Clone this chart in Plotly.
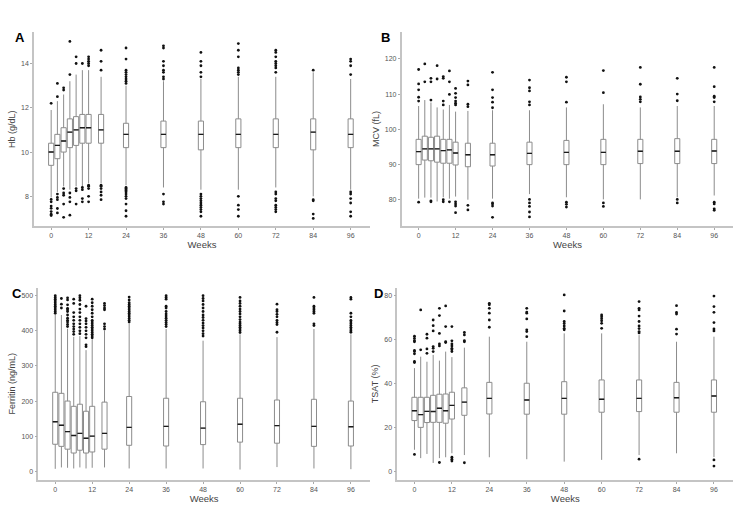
import plotly.graph_objects as go

weeks = [0, 2, 4, 6, 8, 10, 12, 16, 24, 36, 48, 60, 72, 84, 96]
x_ticks = [0, 12, 24, 36, 48, 60, 72, 84, 96]

# Panel A: Hb (g/dL)
hb_q1 = [9.4, 9.7, 10.0, 10.2, 10.3, 10.4, 10.4, 10.4, 10.2, 10.2, 10.1, 10.2, 10.2, 10.1, 10.2]
hb_med = [10.0, 10.3, 10.5, 10.9, 11.0, 11.1, 11.1, 11.0, 10.8, 10.8, 10.8, 10.8, 10.8, 10.9, 10.8]
hb_q3 = [10.4, 10.8, 11.1, 11.5, 11.6, 11.7, 11.7, 11.7, 11.3, 11.4, 11.4, 11.5, 11.5, 11.5, 11.5]
hb_lo = [7.95, 8.2, 8.45, 8.3, 8.45, 8.45, 8.6, 8.6, 8.5, 8.4, 8.3, 8.3, 8.4, 8.0, 8.3]
hb_hi = [11.9, 12.3, 12.6, 13.2, 13.5, 13.7, 13.7, 13.4, 13.0, 13.2, 13.3, 13.4, 13.4, 13.6, 13.3]
hb_out = [
    [12.2, 7.86, 7.75, 7.56, 7.46, 7.31, 7.19, 7.13],
    [12.5, 13.1, 8.1, 7.95, 7.85, 7.45, 7.25],
    [12.8, 12.9, 8.35, 8.15, 8.05, 7.65, 7.05],
    [13.5, 15.0, 8.15, 7.95, 7.75, 7.15],
    [14.0, 14.3, 8.35, 8.25, 7.65],
    [14.0, 8.4, 8.3, 7.9, 7.75],
    [13.9, 14.0, 14.1, 14.2, 14.3, 8.5, 8.45, 8.35, 8.0, 7.75],
    [13.7, 14.1, 14.6, 8.5, 8.45, 8.35, 8.2, 8.05, 7.85],
    [13.1, 13.2, 13.3, 13.4, 13.5, 13.6, 13.7, 14.2, 14.7,
     8.4, 8.35, 8.3, 8.25, 8.2, 8.1, 8.0, 7.9, 7.65, 7.35, 7.1],
    [13.3, 13.4, 13.6, 13.7, 13.9, 14.1, 14.7, 14.8, 8.1, 7.75, 7.65],
    [13.4, 13.6, 13.9, 14.1, 14.5, 8.1, 8.0, 7.9, 7.8, 7.7, 7.6, 7.5, 7.4, 7.3, 7.1],
    [13.5, 13.6, 13.7, 13.8, 14.3, 14.6, 14.9, 8.0, 7.6, 7.4, 7.1],
    [13.6, 13.8, 13.9, 14.0, 14.1, 14.3, 14.5, 14.6, 8.2, 8.1, 7.9, 7.8, 7.6, 7.5, 7.4, 7.3],
    [13.7, 7.85, 7.8, 7.2, 7.0],
    [13.5, 13.9, 14.1, 14.2, 8.2, 8.1, 7.9, 7.7, 7.3, 7.1],
]

# Panel B: MCV (fL)
mcv_q1 = [89.9, 91.2, 91.0, 90.6, 90.3, 90.3, 89.8, 89.3, 89.5, 89.9, 89.9, 89.9, 90.2, 90.2, 90.2]
mcv_med = [93.6, 94.4, 94.4, 94.4, 93.9, 94.1, 93.2, 92.7, 92.7, 93.1, 93.4, 93.4, 93.7, 93.7, 93.8]
mcv_q3 = [97.1, 98.0, 97.7, 98.0, 97.1, 97.1, 96.3, 96.0, 96.0, 96.3, 96.8, 97.1, 97.1, 97.3, 97.1]
mcv_lo = [80.2, 80.5, 80.5, 79.4, 80.6, 80.2, 80.8, 79.9, 80.2, 81.5, 80.6, 80.0, 80.0, 80.6, 81.1]
mcv_hi = [106.6, 108.3, 107.6, 106.2, 105.6, 106.9, 105.0, 105.2, 105.4, 105.4, 106.2, 107.1, 106.2, 106.6, 106.6]
mcv_out = [
    [117.0, 112.9, 111.2, 109.1, 108.0, 79.2],
    [118.6, 113.5],
    [114.5, 113.5, 108.3, 79.6, 79.3],
    [118.1, 114.3],
    [115.0, 114.5, 108.0, 106.9, 79.9, 79.3],
    [116.6, 113.5, 109.9, 79.3],
    [111.6, 110.2, 109.0, 108.0, 107.4, 106.9, 79.3, 78.7, 78.1, 76.2],
    [113.7, 112.6, 107.1, 106.4, 78.3, 77.0],
    [116.2, 111.2, 109.0, 107.7, 106.1, 79.0, 78.7, 78.1, 74.9],
    [114.0, 111.8, 110.9, 107.8, 106.9, 80.0, 79.0, 78.0, 76.4, 75.0],
    [114.8, 113.5, 107.7, 79.2, 78.6, 77.8],
    [116.7, 110.4, 79.0, 78.0],
    [117.6, 112.8, 109.2, 108.5, 107.8],
    [114.5, 110.0, 108.1, 80.0, 79.0],
    [117.6, 112.1, 109.4, 109.0, 107.8, 79.2, 78.7, 77.3, 76.9],
]

# Panel C: Ferritin (ng/mL)
fer_q1 = [77, 71, 63, 52, 60, 52, 55, 63, 74, 72, 76, 83, 80, 71, 72]
fer_med = [141, 131, 113, 102, 108, 94, 100, 108, 125, 128, 123, 134, 130, 128, 127]
fer_q3 = [225, 222, 200, 185, 191, 171, 185, 197, 213, 208, 198, 208, 203, 205, 200]
fer_lo = [7, 11, 10, 8, 11, 8, 10, 11, 8, 8, 8, 5, 12, 8, 6]
fer_hi = [445, 445, 406, 383, 385, 345, 376, 400, 420, 405, 372, 390, 382, 405, 390]
fer_out = [
    [450, 455, 460, 465, 470, 475, 480, 485, 490, 495, 500],
    [465, 476, 492],
    [412, 418, 425, 430, 436, 445, 455, 460, 464, 474, 488, 494],
    [390, 398, 405, 412, 420, 430, 440, 452, 478, 490],
    [392, 400, 410, 420, 430, 440, 452, 462, 475, 487, 494, 500],
    [355, 360, 380, 390, 400, 410, 420, 428, 435, 470],
    [380, 385, 390, 395, 400, 405, 410, 415, 420, 425, 430, 440, 450, 460, 470, 480, 490],
    [405, 412, 420, 460, 465, 472, 478],
    [425, 430, 435, 440, 445, 450, 455, 460, 465, 470, 475, 480, 488, 496],
    [412, 418, 424, 430, 436, 442, 448, 455, 465, 470, 490, 495, 500],
    [385, 392, 400, 408, 415, 422, 430, 438, 445, 455, 465, 475, 485, 492, 500],
    [395, 400, 405, 410, 415, 420, 425, 432, 440, 448, 455, 462, 470, 478, 485, 495],
    [396, 418, 424, 430, 440, 447, 455, 460, 476],
    [415, 420, 450, 455, 460, 465, 470, 495],
    [396, 400, 405, 410, 415, 420, 425, 430, 440, 450, 490, 495],
]

# Panel D: TSAT (%)
tsat_q1 = [23.1, 20.0, 22.2, 22.3, 22.3, 21.9, 23.8, 25.5, 26.1, 26.0, 26.0, 26.9, 27.2, 26.9, 26.9]
tsat_med = [27.6, 25.8, 27.3, 27.2, 28.7, 27.6, 30.0, 31.5, 33.2, 32.5, 33.2, 32.8, 33.2, 33.5, 34.3]
tsat_q3 = [33.7, 33.7, 33.7, 34.6, 35.1, 35.2, 36.0, 38.0, 40.5, 40.1, 40.8, 41.6, 41.6, 40.5, 41.6]
tsat_lo = [9.8, 6.0, 7.9, 3.8, 6.0, 6.4, 8.2, 7.4, 6.4, 5.5, 4.4, 5.2, 7.4, 8.2, 6.5]
tsat_hi = [47.0, 52.2, 49.9, 53.0, 50.4, 54.5, 52.0, 56.3, 61.3, 59.0, 62.8, 62.8, 62.0, 59.0, 61.3]
tsat_out = [
    [49.5, 50.0, 53.5, 54.5, 55.0, 59.0, 59.5, 60.5, 61.5, 7.7],
    [55.3, 73.5],
    [53.7, 55.7, 60.6, 62.4],
    [54.5, 56.0, 56.8, 63.9, 66.3, 68.9],
    [57.1, 58.0, 62.8, 70.9, 74.2, 4.0],
    [58.6, 59.0, 65.9, 75.3],
    [54.5, 55.3, 56.0, 57.1, 58.0, 59.4, 65.9, 4.7, 5.5, 6.4],
    [59.0, 59.5, 62.1, 63.2, 3.9],
    [65.6, 68.9, 72.0, 74.2, 75.8, 76.5],
    [61.3, 63.6, 64.4, 69.4, 72.0, 72.5, 74.2],
    [64.4, 65.1, 66.2, 67.3, 68.2, 73.0, 80.3],
    [65.1, 67.4, 68.5, 69.5, 70.4, 71.2],
    [63.0, 63.6, 65.0, 66.2, 68.2, 70.7, 73.5, 74.2, 77.3, 5.5],
    [62.5, 64.7, 71.6, 72.3, 75.4],
    [63.9, 64.8, 67.7, 72.4, 75.0, 79.8, 5.2, 2.4],
]

panels = [
    dict(q1=hb_q1, med=hb_med, q3=hb_q3, lo=hb_lo, hi=hb_hi, out=hb_out,
         title="Hb (g/dL)", ticks=[8, 10, 12, 14], yr=[6.66, 15.41],
         xd=[34, 370], yd=[32.3, 226], label="A", lab=(20, 38)),
    dict(q1=mcv_q1, med=mcv_med, q3=mcv_q3, lo=mcv_lo, hi=mcv_hi, out=mcv_out,
         title="MCV (fL)", ticks=[80, 90, 100, 110, 120], yr=[72.5, 127.6],
         xd=[401.7, 733.3], yd=[32.3, 225.7], label="B", lab=(385, 38)),
    dict(q1=fer_q1, med=fer_med, q3=fer_q3, lo=fer_lo, hi=fer_hi, out=fer_out,
         title="Ferritin (ng/mL)", ticks=[0, 100, 200, 300, 400, 500], yr=[-24.8, 522.8],
         xd=[38.3, 370], yd=[287.7, 480], label="C", lab=(17, 293)),
    dict(q1=tsat_q1, med=tsat_med, q3=tsat_q3, lo=tsat_lo, hi=tsat_hi, out=tsat_out,
         title="TSAT (%)", ticks=[0, 20, 40, 60, 80], yr=[-3.96, 83.6],
         xd=[397.3, 733.3], yd=[287.7, 480], label="D", lab=(378.5, 293)),
]

W, H = 750, 530
BOXW = 1.65
fig = go.Figure()
layout = dict(width=W, height=H, margin=dict(l=0, r=0, t=0, b=0),
              paper_bgcolor="white", plot_bgcolor="white", showlegend=False,
              font=dict(family="Liberation Sans, Arial, sans-serif", color="#444"))
annotations = []

for i, p in enumerate(panels, start=1):
    xa = "x" if i == 1 else f"x{i}"
    ya = "y" if i == 1 else f"y{i}"
    fig.add_trace(go.Box(
        x=weeks, q1=p["q1"], median=p["med"], q3=p["q3"],
        lowerfence=p["lo"], upperfence=p["hi"], width=BOXW, whiskerwidth=0,
        boxpoints=False, fillcolor="white", line=dict(color="#8c8c8c", width=1),
        xaxis=xa, yaxis=ya, hoverinfo="skip"))
    # median lines in dark
    fig.add_trace(go.Box(
        x=weeks, q1=p["med"], median=p["med"], q3=p["med"],
        lowerfence=p["med"], upperfence=p["med"], width=BOXW, whiskerwidth=0,
        boxpoints=False, fillcolor="rgba(0,0,0,0)", line=dict(color="#1a1a1a", width=1.4),
        xaxis=xa, yaxis=ya, hoverinfo="skip"))
    ox, oy = [], []
    for w, vals in zip(weeks, p["out"]):
        for v in vals:
            ox.append(w)
            oy.append(v)
    fig.add_trace(go.Scatter(x=ox, y=oy, mode="markers",
                             marker=dict(color="#111", size=2.8),
                             xaxis=xa, yaxis=ya, hoverinfo="skip"))
    xkey = "xaxis" if i == 1 else f"xaxis{i}"
    ykey = "yaxis" if i == 1 else f"yaxis{i}"
    layout[xkey] = dict(
        domain=[p["xd"][0] / W, p["xd"][1] / W], anchor=ya, range=[-5.5, 102.2],
        tickvals=x_ticks, ticks="outside", ticklen=2, tickcolor="#aaa",
        tickfont=dict(size=7, color="#555"), showline=True, linecolor="#c4c4c4",
        linewidth=1.6, showgrid=False, zeroline=False,
        title=dict(text="Weeks", font=dict(size=9.5, color="#444"), standoff=0))
    layout[ykey] = dict(
        domain=[1 - p["yd"][1] / H, 1 - p["yd"][0] / H], anchor=xa, range=p["yr"],
        tickvals=p["ticks"], ticks="outside", ticklen=2, tickcolor="#aaa",
        tickfont=dict(size=7, color="#555"), showline=True, linecolor="#c4c4c4",
        linewidth=1.6, showgrid=False, zeroline=False,
        title=dict(text=p["title"], font=dict(size=9, color="#444"), standoff=4))
    annotations.append(dict(text="<b>" + p["label"] + "</b>", xref="paper", yref="paper",
                            x=p["lab"][0] / W, y=1 - p["lab"][1] / H, showarrow=False,
                            xanchor="center", yanchor="middle",
                            font=dict(size=13, color="#000",
                                      family="Liberation Sans, Arial, sans-serif")))

layout["annotations"] = annotations
fig.update_layout(**layout)
fig.write_html("out.html")
